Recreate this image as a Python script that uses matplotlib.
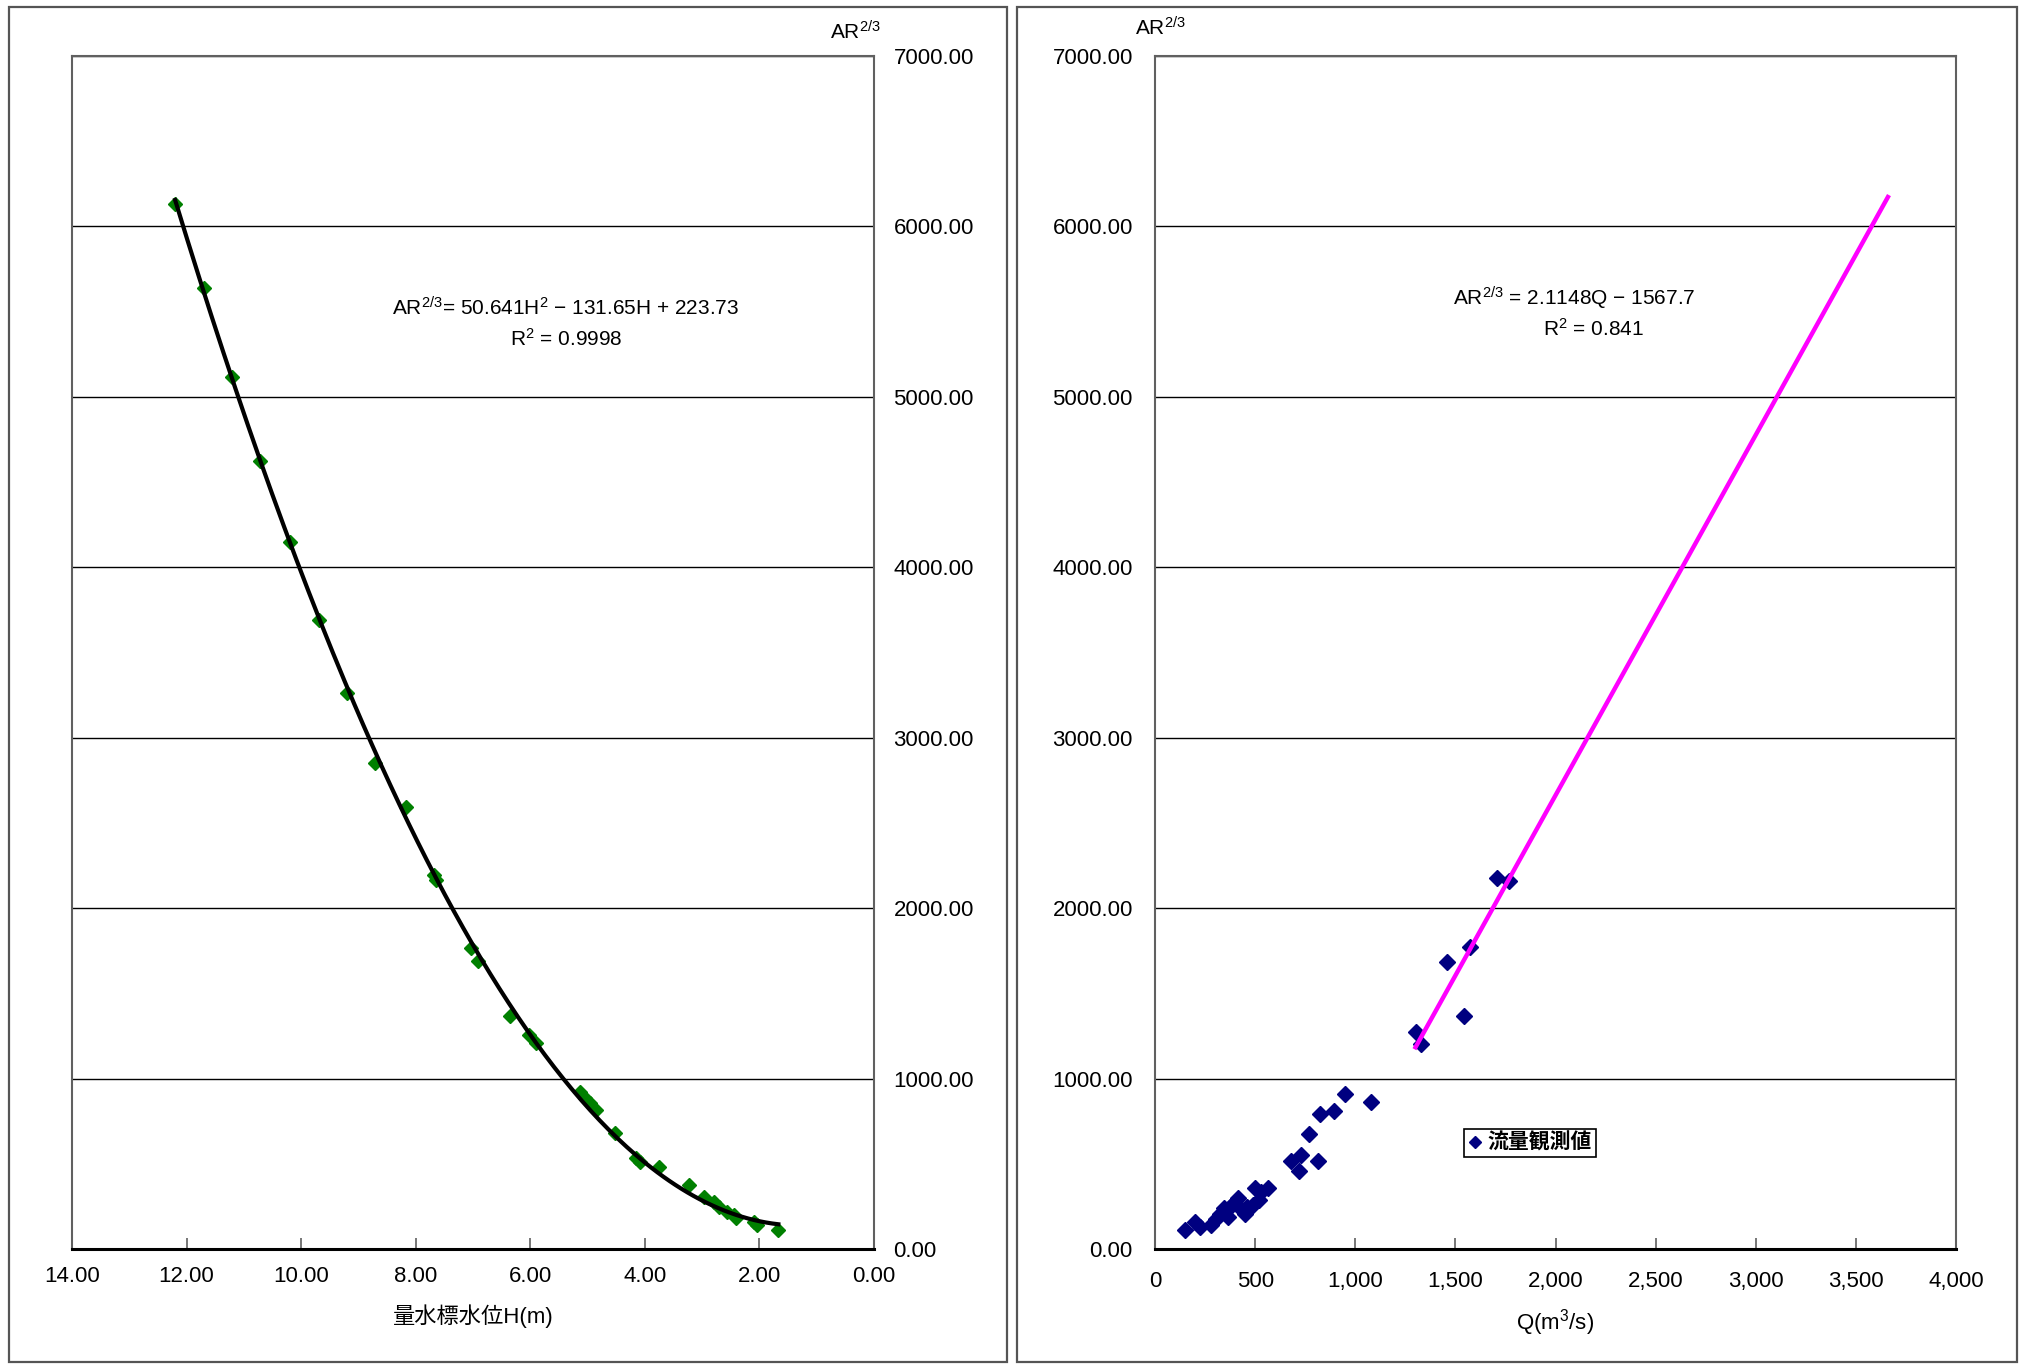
import numpy as np
import matplotlib.pyplot as plt
from matplotlib import font_manager
from matplotlib.patches import Rectangle
from matplotlib.ticker import FuncFormatter, MultipleLocator


def has_font(name):
    try:
        font_manager.findfont(name, fallback_to_default=False)
        return True
    except ValueError:
        return False


# narrow font for the numbers if there is one
if has_font("Liberation Sans Narrow"):
    num_font = "Liberation Sans Narrow"
    tick_size = 18
else:
    num_font = "Liberation Sans"
    tick_size = 16

plt.rcParams["font.family"] = [num_font, "Noto Sans CJK JP", "DejaVu Sans"]
plt.rcParams["mathtext.fontset"] = "custom"
plt.rcParams["mathtext.rm"] = "Liberation Sans"
plt.rcParams["mathtext.it"] = "Liberation Sans:italic"
plt.rcParams["mathtext.bf"] = "Liberation Sans:bold"

# --- data: water level H vs AR^(2/3)
h_obs = [12.20, 11.70, 11.20, 10.71, 10.19, 9.69, 9.20, 8.71, 8.17, 7.68, 7.64,
         7.03, 6.91, 6.35, 6.02, 5.90, 5.13, 5.04, 4.95, 4.86, 4.52, 4.15, 4.09,
         3.75, 3.23, 2.96, 2.80, 2.71, 2.56, 2.44, 2.41, 2.10, 2.04, 1.67]
ar_h = [6130, 5638, 5116, 4624, 4147, 3693, 3262, 2854, 2595, 2197, 2168,
        1767, 1688, 1365, 1257, 1209, 924, 885, 856, 817, 680, 533, 513,
        484, 376, 307, 278, 249, 219, 200, 180, 160, 141, 112]

# --- data: discharge Q vs AR^(2/3)
q_obs = [148, 198, 226, 278, 307, 326, 345, 365, 374, 393, 413, 432, 451, 461,
         489, 499, 518, 528, 566, 681, 720, 729, 768, 816, 825, 896, 950, 1081,
         1301, 1326, 1459, 1542, 1572, 1708, 1767]
ar_q = [109, 158, 129, 139, 178, 208, 238, 188, 248, 267, 297, 228, 208, 248,
        257, 356, 287, 337, 356, 515, 455, 554, 673, 515, 792, 812, 911, 861,
        1271, 1202, 1686, 1369, 1771, 2176, 2157]

# trendline coefficients as printed on the chart
poly_h = [50.641, -131.65, 223.73]
lin_q = [2.1148, -1567.7]
q_trend_start = 1301
q_trend_end = 3660

legend_label = "流量観測値"

W, H = 2022, 1366
fig = plt.figure(figsize=(W / 100, H / 100), dpi=100)

# panel frames
for x0, x1 in [(9, 1007), (1017, 2017)]:
    fig.patches.append(Rectangle((x0 / W, 1 - 1362 / H), (x1 - x0) / W, (1362 - 7) / H,
                                 transform=fig.transFigure, fill=False,
                                 edgecolor="#555555", lw=1.6))

ax_bottom = 1 - 1249 / H
ax_height = (1249 - 56) / H
ax1 = fig.add_axes([72 / W, ax_bottom, (874 - 72) / W, ax_height])
ax2 = fig.add_axes([1155 / W, ax_bottom, (1956 - 1155) / W, ax_height])


def style(ax):
    for s in ["top", "left", "right"]:
        ax.spines[s].set_color("#606060")
        ax.spines[s].set_linewidth(1.5)
    ax.spines["bottom"].set_color("black")
    ax.spines["bottom"].set_linewidth(2.2)
    ax.grid(axis="y", color="black", lw=1.0)
    ax.set_ylim(0, 7000)
    ax.yaxis.set_major_locator(MultipleLocator(1000))
    ax.yaxis.set_major_formatter(FuncFormatter(lambda v, p: f"{v:.2f}"))
    ax.tick_params(axis="x", direction="in", length=8, color="#606060", width=1.2,
                   labelsize=tick_size)
    ax.tick_params(axis="y", length=0, labelsize=tick_size)


# left chart
style(ax1)
ax1.set_xlim(14, 0)
ax1.xaxis.set_major_locator(MultipleLocator(2))
ax1.xaxis.set_major_formatter(FuncFormatter(lambda v, p: f"{v:.2f}"))
ax1.yaxis.tick_right()
ax1.tick_params(axis="y", pad=14)
ax1.tick_params(axis="x", pad=12)
ax1.plot(h_obs, ar_h, linestyle="none", marker="D", ms=7.5, color="#008000", zorder=3)
hh = np.linspace(max(h_obs), min(h_obs), 200)
ax1.plot(hh, np.polyval(poly_h, hh), color="black", lw=3, zorder=4)
ax1.set_xlabel("量水標水位H(m)", fontsize=16, va="center")
ax1.xaxis.set_label_coords(0.5, -0.056)
ax1.text(0.616, 0.789, "AR$^{2/3}$= 50.641H$^2$ − 131.65H + 223.73",
         transform=ax1.transAxes, ha="center", va="center", fontsize=15,
         family="Liberation Sans")
ax1.text(0.616, 0.763, "R$^2$ = 0.9998", transform=ax1.transAxes, ha="center",
         va="center", fontsize=15, family="Liberation Sans")
fig.text(855 / W, 1 - 40 / H, "AR$^{2/3}$", ha="center", va="baseline", fontsize=15)

# right chart
style(ax2)
ax2.set_xlim(0, 4000)
ax2.xaxis.set_major_locator(MultipleLocator(500))
ax2.xaxis.set_major_formatter(FuncFormatter(lambda v, p: f"{v:,.0f}"))
ax2.tick_params(axis="y", pad=16)
ax2.tick_params(axis="x", pad=16)
ax2.plot(q_obs, ar_q, linestyle="none", marker="D", ms=8.5, color="#000080",
         label=legend_label, zorder=3)
qq = np.array([q_trend_start, q_trend_end])
ax2.plot(qq, np.polyval(lin_q, qq), color="#FF00FF", lw=3.2, zorder=4)
ax2.set_xlabel("Q(m$^3$/s)", fontsize=16, va="center")
ax2.xaxis.set_label_coords(0.5, -0.062)
ax2.text(0.523, 0.797, "AR$^{2/3}$ = 2.1148Q − 1567.7", transform=ax2.transAxes,
         ha="center", va="center", fontsize=15, family="Liberation Sans")
ax2.text(0.548, 0.771, "R$^2$ = 0.841", transform=ax2.transAxes, ha="center",
         va="center", fontsize=15, family="Liberation Sans")
fig.text(1160 / W, 1 - 36 / H, "AR$^{2/3}$", ha="center", va="baseline", fontsize=15)
leg = ax2.legend(loc="lower left", bbox_to_anchor=(0.386, 0.077),
                 prop={"size": 15, "weight": "bold"},
                 frameon=True, fancybox=False, edgecolor="black", framealpha=1,
                 borderpad=0.2, handlelength=0.6, handletextpad=0.3,
                 borderaxespad=0, markerscale=0.75)
leg.get_frame().set_linewidth(1.2)

fig.savefig("out.png", dpi=100)
